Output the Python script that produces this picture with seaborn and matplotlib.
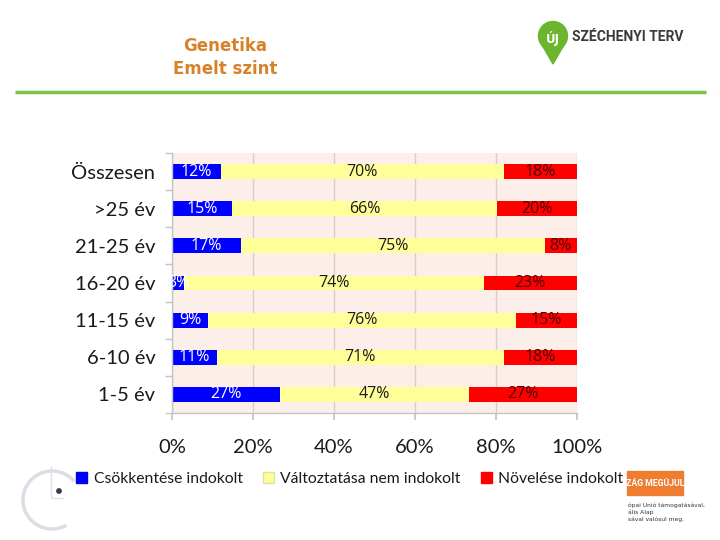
import numpy as np
import pandas as pd
import matplotlib
matplotlib.use('Agg')
import matplotlib.pyplot as plt
import seaborn as sns
from matplotlib.patches import Patch, Circle, Polygon, Rectangle, Arc

categories = ['Összesen', '>25 év', '21-25 év', '16-20 év', '11-15 év', '6-10 év', '1-5 év']
csokkentese = [12, 15, 17, 3, 9, 11, 27]
valtoztatasa = [70, 66, 75, 74, 76, 71, 47]
novelese = [18, 20, 8, 23, 15, 18, 27]
series_names = ['Csökkentése indokolt', 'Változtatása nem indokolt', 'Növelése indokolt']
series_colors = ['#0000ff', '#ffff99', '#ff0000']
label_colors = ['white', '#1a1a1a', '#4a0000']
xtick_values = [0, 20, 40, 60, 80, 100]
xtick_labels = ['0%', '20%', '40%', '60%', '80%', '100%']

sns.set_theme(style='white')
plt.rcParams['font.family'] = ['Lato', 'DejaVu Sans']

df = pd.DataFrame({'cat': categories, 'a': csokkentese, 'b': valtoztatasa, 'c': novelese})
tot = df[['a', 'b', 'c']].sum(axis=1)
df['pa'] = df['a'] / tot * 100
df['pb'] = df['b'] / tot * 100
df['pc'] = df['c'] / tot * 100
df['end_a'] = df['pa']
df['end_b'] = df['pa'] + df['pb']
df['end_c'] = df['end_b'] + df['pc']

fig = plt.figure(figsize=(7.2, 5.4), dpi=100)
fig.patch.set_facecolor('white')

# decoration layer in pixel coordinates
deco = fig.add_axes([0, 0, 1, 1], zorder=-1)
deco.set_xlim(0, 720)
deco.set_ylim(540, 0)
deco.axis('off')
deco.plot([15, 706], [92, 92], color='#7dc242', lw=2.5, solid_capstyle='butt')
deco.add_patch(Circle((553, 36), 14.5, color='#6cb52e'))
deco.add_patch(Polygon([(542, 45), (564, 45), (553, 64)], closed=True, color='#6cb52e'))
deco.text(553, 38, 'ÚJ', color='white', fontsize=8.5, fontweight='bold', ha='center', va='center', family='DejaVu Sans')
deco.text(572, 37, 'SZÉCHENYI TERV', color='#3a3a3a', fontsize=10, fontweight='bold', ha='left', va='center', family='Roboto')
deco.text(225, 46, 'Genetika', color='#d7812a', fontsize=12, fontweight='bold', ha='center', va='center', family='DejaVu Sans')
deco.text(225, 69, 'Emelt szint', color='#d7812a', fontsize=12, fontweight='bold', ha='center', va='center', family='DejaVu Sans')
# bottom-left faint logo
deco.add_patch(Arc((52, 500), 58, 58, theta1=60, theta2=320, color='#dcdce4', lw=2.5))
deco.plot([51, 51, 63], [466, 498, 498], color='#e0e0e6', lw=1)
deco.add_patch(Circle((59, 491), 2.2, color='#3a3a5a'))
# bottom-right orange badge
deco.add_patch(Rectangle((627, 471), 56, 24, color='#ee7d31'))
deco.text(655, 483, 'ZÁG MEGÚJUL', color='white', fontsize=6.3, fontweight='bold', ha='center', va='center', family='Roboto')
for yy, t in zip([505, 512, 519], ['ópai Unió támogatásával,', 'ális Alap', 'sával valósul meg.']):
    deco.text(628, yy, t, color='#333333', fontsize=4.3, ha='left', va='center', family='DejaVu Sans')

ax = fig.add_axes([172 / 720, 1 - 413 / 540, 405 / 720, 260 / 540])
ax.set_facecolor('#fcefe9')
for col, color in [('end_c', series_colors[2]), ('end_b', series_colors[1]), ('end_a', series_colors[0])]:
    sns.barplot(data=df, x=col, y='cat', orient='h', color=color, width=0.4, ax=ax,
                saturation=1, errorbar=None, edgecolor='none', linewidth=0)

for i, row in df.iterrows():
    starts = [0, row['end_a'], row['end_b']]
    widths = [row['pa'], row['pb'], row['pc']]
    vals = [row['a'], row['b'], row['c']]
    for k in range(3):
        ax.text(starts[k] + widths[k] / 2, i, f'{vals[k]}%', ha='center', va='center',
                fontsize=11.5, color=label_colors[k], clip_on=True, family=['Open Sans', 'DejaVu Sans'])

ax.set_xlim(0, 100)
ax.set_ylim(len(categories) - 0.5, -0.5)
ax.set_xticks(xtick_values)
ax.set_xticklabels(xtick_labels)
ax.set_xlabel('')
ax.set_ylabel('')
ax.xaxis.grid(True, color='#d6ceca', lw=1)
ax.yaxis.grid(False)
ax.set_axisbelow(True)
for s in ['top', 'right']:
    ax.spines[s].set_visible(False)
for s in ['left', 'bottom']:
    ax.spines[s].set_visible(True)
    ax.spines[s].set_color('#c4c4c4')
    ax.spines[s].set_linewidth(1)
ax.set_yticks(np.arange(-0.5, len(categories) + 0.5, 1), minor=True)
ax.tick_params(axis='y', which='major', length=0, pad=12, labelsize=14.5, labelcolor='#1a1a1a')
ax.tick_params(axis='y', which='minor', length=5, color='#c4c4c4', direction='out', left=True)
ax.tick_params(axis='x', which='major', length=5, color='#c4c4c4', direction='out', bottom=True,
               pad=14, labelsize=14.5, labelcolor='#1a1a1a')

handles = [Patch(facecolor=c, edgecolor='#e0e0a0' if c == '#ffff99' else c) for c in series_colors]
fig.legend(handles, series_names, loc='center', bbox_to_anchor=(350 / 720, 1 - 479 / 540), ncol=3,
           frameon=False, fontsize=11.3, handlelength=0.7, handleheight=0.7, handletextpad=0.4,
           columnspacing=1.3, labelcolor='#1a1a1a')

fig.savefig('out.png', dpi=100, facecolor='white')
